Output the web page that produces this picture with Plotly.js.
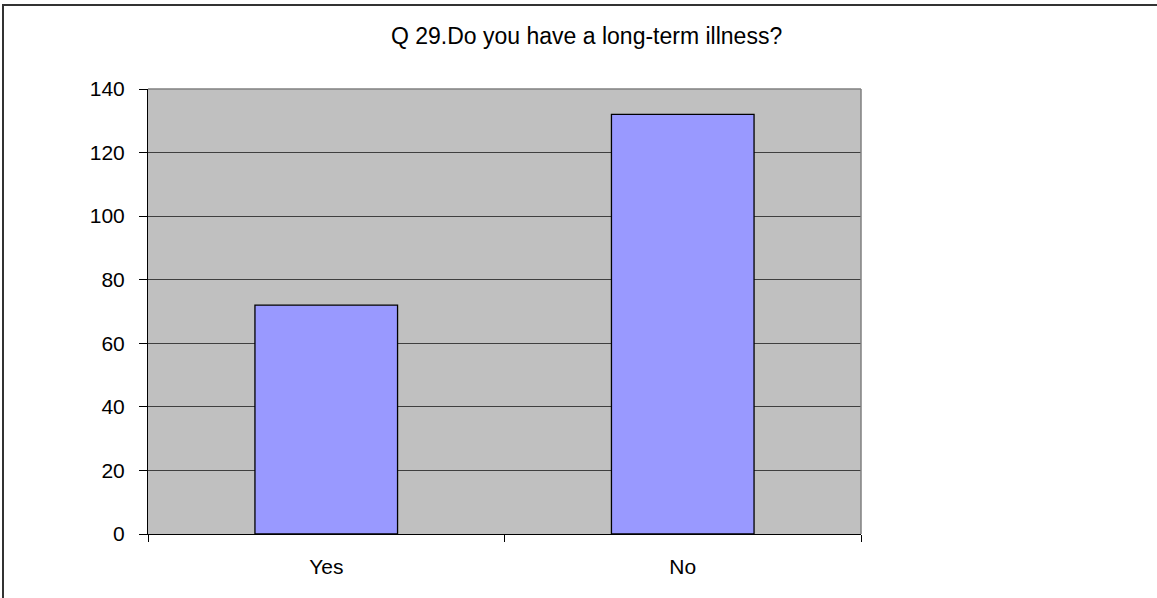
<!DOCTYPE html>
<html>
<head>
<meta charset="utf-8">
<script src="https://cdn.plot.ly/plotly-3.0.1.min.js"></script>
<style>
html,body{margin:0;padding:0;background:#fff;}
#chart{width:1157px;height:598px;position:absolute;left:0;top:0;}
#frame{position:absolute;left:2px;top:4px;width:1157px;height:600px;border-top:2px solid #333;border-left:2px solid #333;pointer-events:none;}
</style>
</head>
<body>
<div id="chart"></div>
<div id="frame"></div>
<script>
const categories = ["Yes", "No"];
const counts = [72, 132];
const chartTitle = "Q 29.Do you have a long-term illness?";

const trace = {
  type: "bar",
  x: categories,
  y: counts,
  marker: {color: "#9999FF", line: {color: "#000000", width: 1.3}},
  hoverinfo: "x+y"
};

const layout = {
  width: 1157, height: 598,
  margin: {l: 148, r: 296, t: 89, b: 64},
  paper_bgcolor: "#ffffff",
  plot_bgcolor: "#C0C0C0",
  bargap: 0.6,
  showlegend: false,
  font: {family: "Liberation Sans, Arial, sans-serif", size: 21, color: "#000"},
  title: {
    text: chartTitle,
    font: {family: "Liberation Sans, Arial, sans-serif", size: 23, color: "#000"},
    xref: "container", x: 0.507, xanchor: "center",
    yref: "container", y: 0.94, yanchor: "middle"
  },
  xaxis: {
    type: "category",
    showgrid: false,
    showline: true, linecolor: "#000", linewidth: 1,
    ticks: "outside", tickson: "boundaries", ticklen: 7, tickcolor: "#000", tickwidth: 1,
    ticklabelstandoff: 14,
    tickfont: {size: 21},
    zeroline: false
  },
  yaxis: {
    range: [0, 140], dtick: 20, tick0: 0,
    showgrid: true, gridcolor: "#3f3f3f", gridwidth: 1,
    showline: true, linecolor: "#000", linewidth: 1,
    ticks: "outside", ticklen: 8, tickcolor: "#000", tickwidth: 1,
    ticklabelstandoff: 10,
    tickfont: {size: 21},
    zeroline: false
  },
  shapes: [
    {type: "line", xref: "paper", yref: "paper", x0: 1, x1: 1, y0: 0, y1: 1, line: {color: "#808080", width: 1.5}},
    {type: "line", xref: "paper", yref: "paper", x0: 0, x1: 1, y0: 1, y1: 1, line: {color: "#808080", width: 1.5}}
  ]
};

Plotly.newPlot("chart", [trace], layout, {displayModeBar: false, staticPlot: true});
</script>
</body>
</html>
